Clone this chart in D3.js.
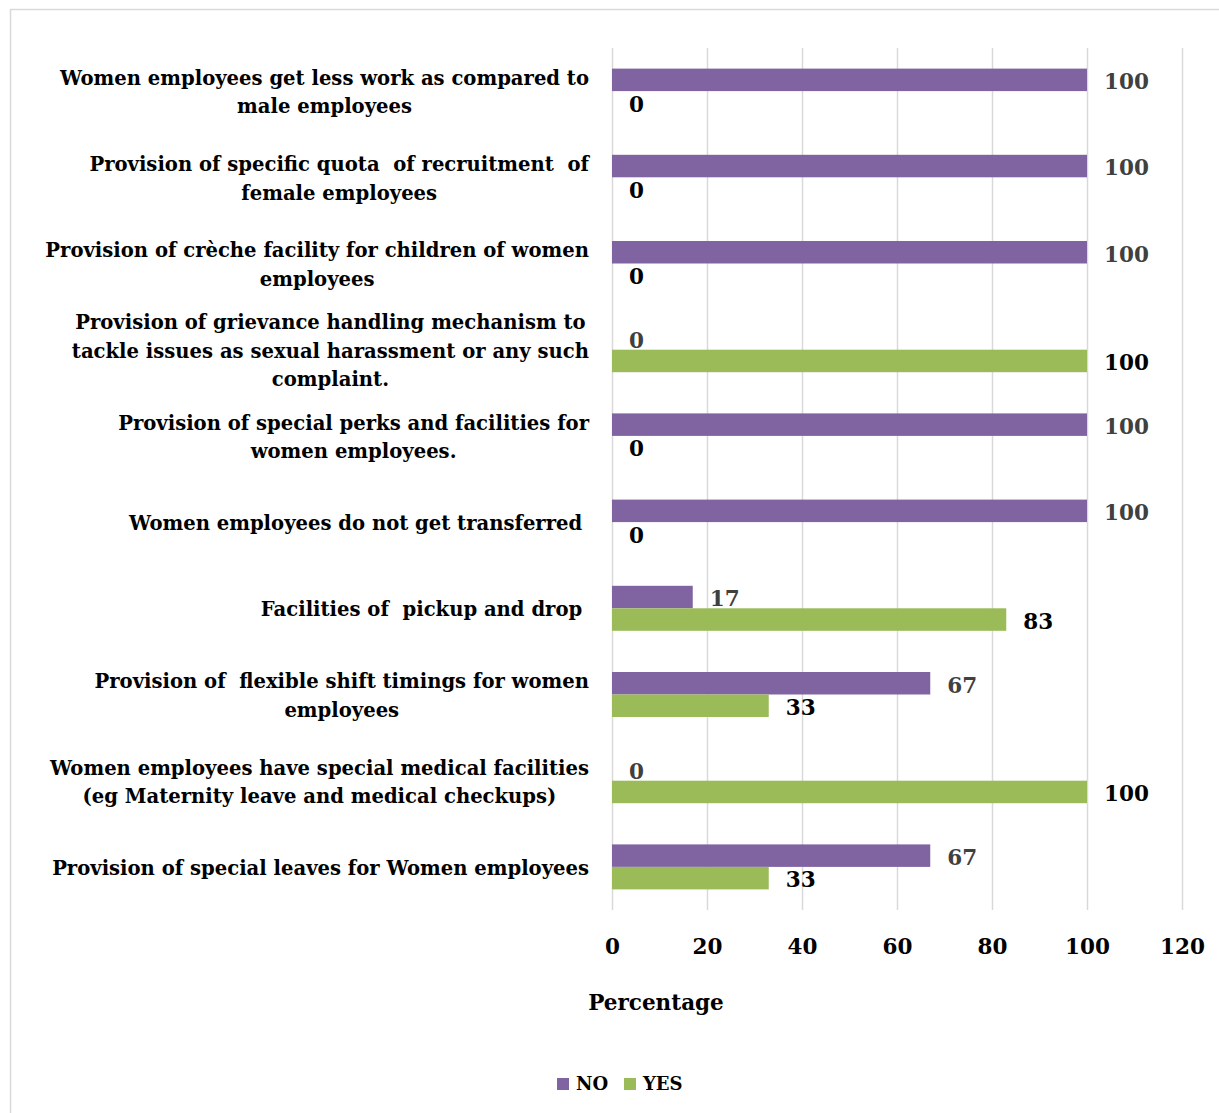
<!DOCTYPE html>
<html><head><meta charset="utf-8">
<script src="https://cdn.jsdelivr.net/npm/d3@7"></script>
<style>
body{margin:0;background:#fff;}
svg{display:block;}
text{font-family:"DejaVu Serif","Liberation Serif",serif;font-weight:bold;}
</style></head>
<body><svg id="c" width="1219" height="1113"></svg>
<script>
const categories = [
  ["Women employees get less work as compared to","male employees"],
  ["Provision of specific quota  of recruitment  of","female employees"],
  ["Provision of crèche facility for children of women","employees"],
  ["Provision of grievance handling mechanism to","tackle issues as sexual harassment or any such","complaint."],
  ["Provision of special perks and facilities for","women employees."],
  ["Women employees do not get transferred "],
  ["Facilities of  pickup and drop "],
  ["Provision of  flexible shift timings for women","employees"],
  ["Women employees have special medical facilities","(eg Maternity leave and medical checkups)"],
  ["Provision of special leaves for Women employees"]
];
const noValues  = [100,100,100,0,100,100,17,67,0,67];
const yesValues = [0,0,0,100,0,0,83,33,100,33];
const xTicks = [0,20,40,60,80,100,120];
const seriesNames = ["NO","YES"];
const seriesColors = ["#8064a2","#9bbb59"];
const labelColors = ["#404040","#000000"];

const svg = d3.select("#c");
svg.append("rect").attr("x",10.5).attr("y",9.5).attr("width",1230).attr("height",1130)
  .attr("fill","#fff").attr("stroke","#d9d9d9").attr("stroke-width",1.5);

const x = d3.scaleLinear().domain([0,120]).range([612,1182]);
const y = d3.scaleBand().domain(d3.range(categories.length)).range([48,910]).paddingInner(0).paddingOuter(0);
const inner = d3.scaleBand().domain(seriesNames).range([0,45]);

// grid
svg.append("g").selectAll("line").data(xTicks).join("line")
  .attr("x1",d=>x(d)+0.5).attr("x2",d=>x(d)+0.5).attr("y1",48).attr("y2",910)
  .attr("stroke","#d9d9d9").attr("stroke-width",1.5);

// axis tick labels
const xAxis = d3.axisBottom(x).tickValues(xTicks).tickSize(0).tickPadding(0);
const ax = svg.append("g").attr("transform","translate(0,937)").call(xAxis);
ax.select(".domain").remove();
ax.selectAll("text").attr("font-size",21.5).attr("fill","#000")
  .attr("font-family","DejaVu Serif").attr("font-weight","bold").attr("dy","0.35em").attr("y",9);

svg.append("text").attr("x",656).attr("y",1002).attr("dy","0.35em").attr("text-anchor","middle")
  .attr("font-size",21.5).text("Percentage");

const series = [noValues, yesValues];
series.forEach((vals,si)=>{
  const g = svg.append("g");
  const off = (y.bandwidth()-45)/2 + inner(seriesNames[si]);
  g.selectAll("rect").data(vals).join("rect")
    .attr("x",x(0)).attr("y",(d,i)=>y(i)+off)
    .attr("width",d=>x(d)-x(0)).attr("height",inner.bandwidth())
    .attr("fill",seriesColors[si]);
  g.selectAll("text").data(vals).join("text")
    .attr("x",d=>x(d)+17).attr("y",(d,i)=>y(i)+off+inner.bandwidth()/2+1.8)
    .attr("dy","0.35em").attr("font-size",21.5).attr("fill",labelColors[si]).text(d=>d);
});

// category labels
const lh = 28.5;
const cg = svg.append("g");
categories.forEach((lines,i)=>{
  const cy = y(i)+y.bandwidth()/2+1.2;
  const t = cg.append("text").attr("font-size",19.6).attr("fill","#000")
    .attr("text-anchor","middle").style("white-space","pre");
  lines.forEach((ln,j)=>{
    t.append("tspan").attr("y",cy+(j-(lines.length-1)/2)*lh).attr("dy","0.35em").text(ln);
  });
  let w = 0;
  t.selectAll("tspan").each(function(){w=Math.max(w,this.getComputedTextLength());});
  t.selectAll("tspan").attr("x",589-w/2);
});

// legend
const lg = svg.append("g");
const legX = [557,624];
seriesNames.forEach((s,i)=>{
  lg.append("rect").attr("x",legX[i]).attr("y",1078).attr("width",12).attr("height",12).attr("fill",seriesColors[i]);
  lg.append("text").attr("x",legX[i]+19).attr("y",1084).attr("dy","0.35em").attr("font-size",18).text(s);
});
</script></body></html>
